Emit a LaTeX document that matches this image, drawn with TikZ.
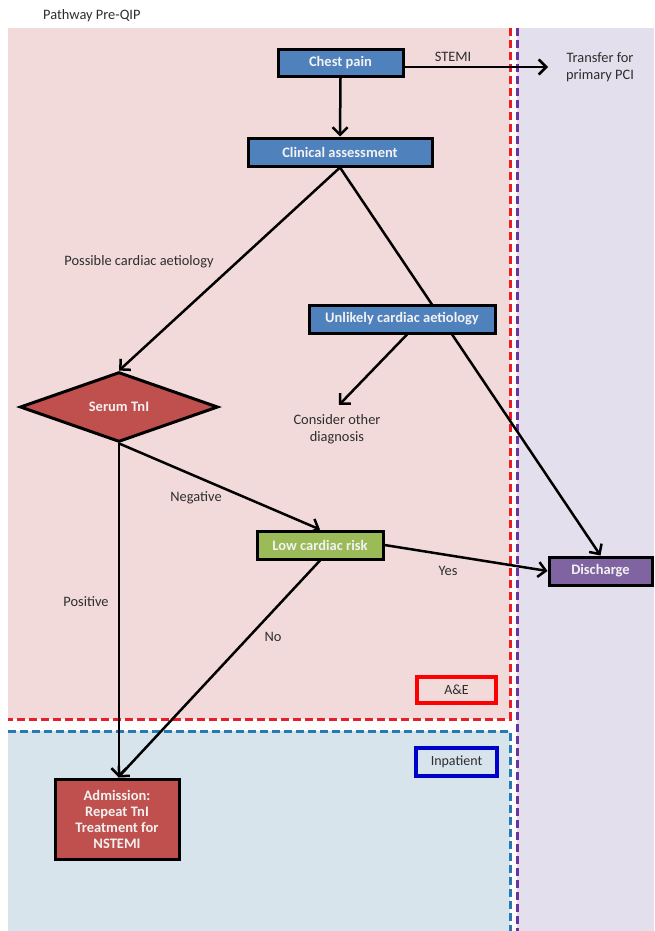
\documentclass[tikz,border=0pt]{standalone}
\usepackage{fontspec}
\setmainfont{Carlito}
\usetikzlibrary{shapes.geometric,arrows.meta,calc}
\definecolor{pinkbg}{RGB}{242,218,219}
\definecolor{bluebg}{RGB}{216,228,236}
\definecolor{purplebg}{RGB}{228,223,236}
\definecolor{boxblue}{RGB}{79,129,189}
\definecolor{boxred}{RGB}{192,80,77}
\definecolor{boxgreen}{RGB}{155,187,89}
\definecolor{boxpurple}{RGB}{128,100,162}
\definecolor{dashred}{RGB}{230,30,40}
\definecolor{dashblue}{RGB}{40,120,180}
\definecolor{dashpurple}{RGB}{112,48,160}
\definecolor{labelgray}{RGB}{45,45,45}
\pgfdeclarelayer{regions}
\pgfdeclarelayer{links}
\pgfsetlayers{regions,links,main}
\tikzset{
  flowbox/.style={draw=black, line width=3pt, rectangle, inner sep=0pt,
    text=white!95!black, font=\fontsize{14.5}{16}\selectfont\bfseries, align=center},
  decisionbox/.style={flowbox, shape=diamond, fill=boxred},
  plainlabel/.style={text=labelgray, font=\fontsize{14.4}{17.5}\selectfont, align=center, inner sep=0pt},
  link/.style={draw=black, line width=2.5pt},
  arrowlink/.style={link, -{Straight Barb[length=7.5pt,width=15pt]}},
  zonedash/.style={line width=3pt, dash pattern=on 8pt off 4pt},
  zonetag/.style={rectangle, line width=3.5pt, inner sep=0pt, fill=none,
    text=labelgray, font=\fontsize{14}{17}\selectfont}
}
\begin{document}
\begin{tikzpicture}[x=1pt,y=-1pt]
\useasboundingbox (0,0) rectangle (654,931);
% regions
\begin{pgfonlayer}{regions}
  \fill[pinkbg] (8,28) rectangle (510,719);
  \fill[bluebg] (8,731) rectangle (510,931);
  \fill[purplebg] (517,28) rectangle (654,931);
  \draw[zonedash, draw=dashred] (510,28) -- (510,719) -- (8,719);
  \draw[zonedash, draw=dashblue] (8,731) -- (510,731) -- (510,931);
  \draw[zonedash, draw=dashpurple] (517,28) -- (517,931);
\end{pgfonlayer}
% title
\node[plainlabel, anchor=west] (title) at (43,16) {Pathway Pre-QIP};
% boxes
\node[flowbox, fill=boxblue, minimum width=125pt, minimum height=27pt] (chest) at (340.5,63) {Chest pain};
\node[flowbox, fill=boxblue, minimum width=184pt, minimum height=28pt] (clin) at (340,152) {Clinical assessment};
\node[flowbox, fill=boxblue, minimum width=186pt, minimum height=28pt] (unlik) at (402,319) {Unlikely cardiac aetiology};
\node[decisionbox, minimum width=198pt, minimum height=58pt] (serum) at (119,407) {Serum TnI};
\node[flowbox, fill=boxgreen, minimum width=126pt, minimum height=28pt] (low) at (320,545) {Low cardiac risk};
\node[flowbox, fill=boxpurple, minimum width=103pt, minimum height=28pt] (disch) at (600.5,571) {Discharge};
\node[flowbox, fill=boxred, minimum width=124pt, minimum height=80pt] (adm) at (117,819) {Admission:\\Repeat TnI\\Treatment for\\NSTEMI};
% zone tags
\node[zonetag, draw=red, minimum width=79pt, minimum height=26pt] (ae) at (456.5,690) {A\&E};
\node[zonetag, draw=blue!80!black, minimum width=81pt, minimum height=28pt] (inpat) at (456.5,762) {Inpatient};
% plain texts
\node[plainlabel] (transfer) at (600,67) {Transfer for\\primary PCI};
\node[plainlabel] (consider) at (337,429) {Consider other\\diagnosis};
\node[plainlabel] (stemi) at (453,57) {STEMI};
\node[plainlabel] (possible) at (139,262) {Possible cardiac aetiology};
\node[plainlabel] (negative) at (196,498) {Negative};
\node[plainlabel] (positive) at (86,602) {Positive};
\node[plainlabel] (no) at (273,637) {No};
\node[plainlabel] (yes) at (448,571) {Yes};
\coordinate (stemiend) at (548,67);
\coordinate (considerend) at (339,405);
% connectors
\begin{pgfonlayer}{links}
  \draw[arrowlink] (chest.south) -- (clin.north);
  \draw[arrowlink] (chest.east |- stemiend) -- (stemiend);
  \draw[arrowlink] (clin.south) -- (serum.north);
  \draw[arrowlink] (clin.south) -- (disch.north);
  \draw[arrowlink] ([xshift=5pt]unlik.south) -- (considerend);
  \draw[arrowlink] (serum.south) -- (low.north);
  \draw[arrowlink] (serum.south) -- (serum.south |- adm.north);
  \draw[arrowlink] (low.south) -- ([xshift=1pt]adm.north);
  \draw[arrowlink] (low.east) -- (disch.west);
\end{pgfonlayer}
\end{tikzpicture}
\end{document}
